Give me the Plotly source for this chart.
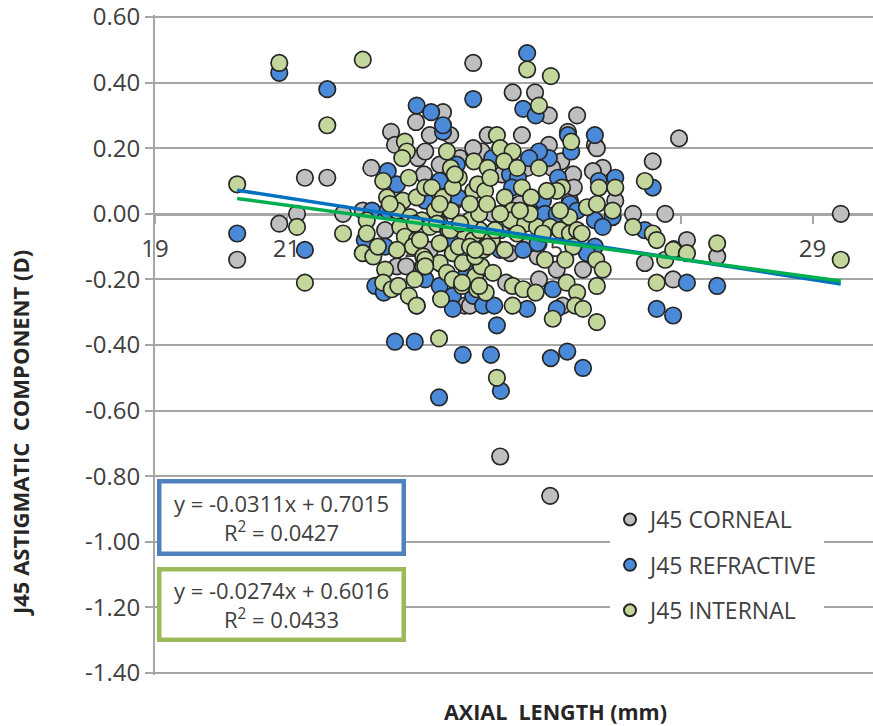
import plotly.graph_objects as go

corneal_x = [20.25,20.89,21.16,21.28,21.62,21.86,22.16,22.29,22.59,22.65,22.97,23.18,23.38,23.49,23.00,23.11,23.09,23.33,23.64,23.85,
             23.84,24.44,24.78,24.99,25.42,24.58,24.06,23.97,23.84,24.99,25.28,25.69,25.72,26.97,26.57,25.81,25.66,25.18,25.36,26.00,
             26.27,26.76,29.43,24.14,24.28,24.66,25.04,22.50,22.68,22.82,24.82,25.11,25.51,24.34,24.84,23.71,25.20,26.45,27.09,27.55,
             26.88,23.79,22.98,24.25,25.01,23.33,23.79,24.25,24.70,23.18,23.56,23.94,24.55,25.31,25.37,22.65,22.88,23.94,24.40,24.73]
corneal_y = [-0.14,-0.03,0.00,0.11,0.11,0.00,0.01,0.14,0.25,0.21,0.28,0.24,0.31,0.24,0.17,0.19,0.12,0.15,0.17,0.19,
             0.46,0.37,0.37,0.30,0.30,0.24,0.24,0.19,0.20,0.21,0.25,0.21,0.20,0.23,0.16,0.14,0.13,0.16,0.12,0.04,
             0.00,0.00,0.00,0.00,0.12,0.14,0.14,-0.05,-0.16,-0.16,-0.13,-0.17,-0.17,-0.21,-0.20,-0.28,-0.28,-0.15,-0.08,-0.13,
             -0.20,-0.28,-0.28,-0.74,-0.86,-0.03,-0.08,-0.05,-0.09,-0.11,0.04,0.03,0.03,0.04,0.08,0.01,-0.08,-0.17,-0.12,0.00]

refractive_x = [20.25,20.89,21.28,21.62,22.98,23.20,23.38,23.38,23.84,24.66,24.60,24.79,25.28,25.69,25.33,24.99,24.84,24.69,24.13,22.54,
                22.68,23.33,23.59,23.61,23.11,24.40,24.52,24.43,25.13,26.00,25.75,26.57,24.90,24.29,24.93,25.11,25.31,25.42,25.96,25.69,
                25.81,26.45,22.30,22.54,22.19,22.50,24.60,24.82,25.69,25.57,23.11,23.74,22.35,22.48,23.33,23.53,23.53,23.84,23.99,24.16,
                24.66,25.05,25.11,24.20,22.65,22.95,23.32,23.68,24.11,24.26,25.02,25.27,25.51,26.63,26.88,27.09,27.55,23.79,24.25,23.49]
refractive_y = [-0.06,0.43,-0.11,0.38,0.33,0.31,0.25,0.27,0.35,0.49,0.32,0.30,0.24,0.24,0.19,0.17,0.19,0.17,0.17,0.13,
                0.09,0.10,0.15,0.05,0.04,0.12,0.11,0.08,0.11,0.11,0.10,0.08,0.04,0.00,0.00,0.00,0.03,0.01,-0.01,-0.02,
                -0.04,-0.05,0.01,0.01,-0.08,-0.10,-0.11,-0.09,-0.10,-0.12,-0.20,-0.18,-0.22,-0.24,-0.22,-0.25,-0.29,-0.25,-0.28,-0.28,
                -0.29,-0.23,-0.29,-0.34,-0.39,-0.39,-0.56,-0.43,-0.43,-0.54,-0.44,-0.42,-0.47,-0.29,-0.31,-0.21,-0.22,-0.03,-0.11,-0.08]

internal_x = [20.25,20.89,21.16,21.28,21.86,22.16,21.62,22.16,22.32,22.39,22.22,22.22,22.47,22.53,22.80,22.83,22.76,22.86,22.77,22.98,
              23.11,23.21,23.38,23.44,23.50,23.62,23.53,23.84,23.85,23.26,23.50,22.68,22.88,23.06,23.18,22.73,22.80,22.98,22.92,22.68,
              23.29,23.46,23.71,23.33,23.53,23.62,23.08,23.08,23.33,23.68,22.50,22.47,22.60,22.70,22.95,23.44,23.53,23.67,22.86,22.98,
              23.35,23.32,23.87,23.90,24.03,23.96,24.14,23.82,23.87,23.84,23.94,24.02,24.12,24.32,24.17,23.79,23.93,24.20,24.25,24.44,
              24.31,24.51,24.06,23.91,24.02,24.32,24.58,24.72,24.05,24.84,24.66,25.02,24.84,25.19,25.11,24.96,25.33,26.00,25.75,25.57,
              25.72,25.96,25.30,24.44,24.40,24.63,24.51,24.81,25.01,24.90,25.16,25.31,25.42,25.49,25.36,24.93,25.24,25.71,25.81,24.44,
              24.60,24.79,25.26,25.42,25.72,24.44,25.05,25.39,25.51,25.72,24.20,26.27,26.45,26.57,26.63,26.76,26.88,27.09,26.63,27.55,29.43,
              23.99,24.06,23.79,23.87,23.11,23.11,23.03,23.49,23.67,23.93,22.57,22.95,23.33,23.64,24.70,24.25,23.79,23.56,24.55,24.10,25.16]
internal_y = [0.09,0.46,-0.04,-0.21,-0.06,0.47,0.27,-0.12,-0.13,-0.10,-0.02,-0.06,0.10,0.05,0.22,0.19,0.17,0.11,0.04,0.05,
              0.08,0.08,0.05,0.19,0.14,0.11,0.08,0.07,0.16,0.01,0.01,0.01,-0.01,-0.02,-0.04,-0.04,-0.07,-0.08,-0.10,-0.11,
              -0.03,-0.05,-0.06,-0.09,-0.12,-0.10,-0.13,-0.16,-0.15,-0.15,-0.17,-0.21,-0.23,-0.22,-0.20,-0.18,-0.20,-0.22,-0.25,-0.28,
              -0.26,-0.38,-0.19,-0.23,-0.24,-0.16,-0.18,-0.10,-0.13,-0.08,-0.05,-0.10,-0.08,-0.11,-0.05,-0.02,0.00,0.24,0.20,0.19,
              0.16,0.14,0.14,0.09,0.07,0.05,0.08,0.05,0.03,0.33,0.44,0.42,0.14,0.08,0.07,0.07,0.22,0.08,0.08,0.02,
              0.03,0.01,-0.01,0.01,-0.02,-0.03,-0.06,-0.04,-0.04,-0.06,-0.05,-0.06,-0.05,-0.06,-0.10,-0.14,-0.14,-0.14,-0.17,-0.22,
              -0.23,-0.24,-0.21,-0.24,-0.22,-0.28,-0.32,-0.28,-0.29,-0.33,-0.50,-0.04,0.10,-0.06,-0.08,-0.14,-0.11,-0.12,-0.21,-0.09,-0.14,
              -0.11,-0.10,-0.10,-0.11,-0.14,-0.16,-0.08,-0.05,-0.21,-0.22,0.03,-0.03,0.03,-0.03,0.00,0.00,0.03,0.12,0.01,0.11,0.01]

trend_x = [20.25, 29.43]
trend_refractive_y = [0.072, -0.214]
trend_internal_y = [0.047, -0.205]

x_ticks = [19, 21, 23, 25, 27, 29]
y_ticks = [0.6, 0.4, 0.2, 0, -0.2, -0.4, -0.6, -0.8, -1.0, -1.2, -1.4]
y_labels = ["0.60", "0.40", "0.20", "0.00", "-0.20", "-0.40", "-0.60", "-0.80", "-1.00", "-1.20", "-1.40"]

W, H = 873, 726
FONT = "Open Sans"
TEXT = "#404040"
AXIS = "#a6a6a6"
EDGE = "#262626"


def px(x):
    return x / W


def py(y):
    return 1 - y / H


fig = go.Figure()
for name, xs, ys, fill in [
    ("J45 CORNEAL", corneal_x, corneal_y, "#bfbfbf"),
    ("J45 REFRACTIVE", refractive_x, refractive_y, "#4a8ad8"),
    ("J45 INTERNAL", internal_x, internal_y, "#c3d69b"),
]:
    fig.add_trace(go.Scatter(
        x=xs, y=ys, mode="markers", name=name, legendgroup=name,
        marker=dict(size=16.5, color=fill, line=dict(color=EDGE, width=1.7)),
    ))
fig.add_trace(go.Scatter(x=trend_x, y=trend_refractive_y, mode="lines", showlegend=False,
                         line=dict(color="#0070c0", width=3.5)))
fig.add_trace(go.Scatter(x=trend_x, y=trend_internal_y, mode="lines", showlegend=False,
                         line=dict(color="#00b050", width=3.5)))

fig.update_layout(
    width=W, height=H, margin=dict(l=0, r=0, t=0, b=0, autoexpand=False),
    paper_bgcolor="white", plot_bgcolor="white",
    font=dict(family=FONT, color=TEXT),
    xaxis=dict(
        domain=[px(155), 1], range=[19, 29.92], anchor="free", position=py(214.5),
        automargin=False,
        tickmode="array", tickvals=x_ticks, ticktext=[str(v) for v in x_ticks],
        showgrid=False, zeroline=False, showline=True, linecolor=AXIS, linewidth=2,
        ticks="outside", ticklen=8, tickcolor=AXIS, tickwidth=1.5,
        tickfont=dict(size=24, color=TEXT), ticklabelstandoff=5, layer="below traces",
    ),
    yaxis=dict(
        domain=[py(674.6), py(15.4)], range=[-1.405, 0.605],
        automargin=False, ticklabeloverflow="allow",
        tickmode="array", tickvals=y_ticks, ticktext=y_labels,
        showgrid=True, gridcolor=AXIS, gridwidth=2, zeroline=False,
        showline=True, linecolor=AXIS, linewidth=2,
        ticks="outside", ticklen=8, tickcolor=AXIS, tickwidth=2,
        tickfont=dict(size=24, color=TEXT), layer="below traces",
    ),
    legend=dict(
        x=px(610), y=py(498), xanchor="left", yanchor="top",
        bgcolor="white", borderwidth=0, tracegroupgap=12.5,
        font=dict(size=23, color=TEXT, family=FONT), itemsizing="constant",
    ),
    annotations=[
        dict(text="y = -0.0311x + 0.7015<br>R<sup>2</sup> = 0.0427", xref="paper", yref="paper",
             x=px(281), y=py(517.5), xanchor="center", yanchor="middle", showarrow=False,
             width=240, height=68, bgcolor="white", bordercolor="#4f81bd", borderwidth=4.5, borderpad=0,
             font=dict(size=22, color=TEXT), align="center"),
        dict(text="y = -0.0274x + 0.6016<br>R<sup>2</sup> = 0.0433", xref="paper", yref="paper",
             x=px(281), y=py(604.5), xanchor="center", yanchor="middle", showarrow=False,
             width=240, height=66, bgcolor="white", bordercolor="#9bbb59", borderwidth=4.5, borderpad=0,
             font=dict(size=22, color=TEXT), align="center"),
        dict(text="<b>AXIAL  LENGTH (mm)</b>", xref="paper", yref="paper", x=px(555), y=py(711),
             xanchor="center", yanchor="middle", showarrow=False, font=dict(size=21.5, color="#262626")),
        dict(text="<b>J45 ASTIGMATIC  COMPONENT (D)</b>", xref="paper", yref="paper", x=px(20), y=py(433),
             xanchor="center", yanchor="middle", showarrow=False, textangle=-90,
             font=dict(size=22, color="#262626")),
    ],
)

fig.write_html("out.html", config={"displayModeBar": False}, post_script="document.body.style.margin='0';")
